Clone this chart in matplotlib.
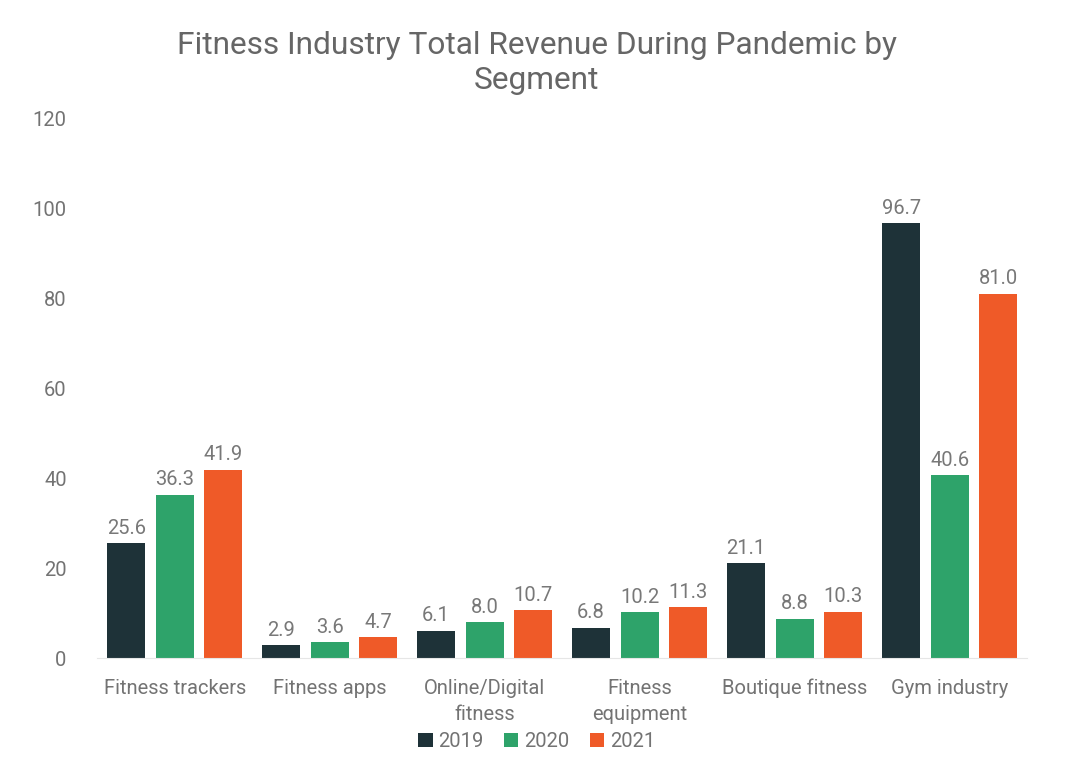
import numpy as np
import matplotlib.pyplot as plt

plt.rcParams['font.family'] = ['Roboto', 'DejaVu Sans']

segments = ['Fitness trackers', 'Fitness apps', 'Online/Digital\nfitness',
            'Fitness\nequipment', 'Boutique fitness', 'Gym industry']
years = ['2019', '2020', '2021']
rev_2019 = [25.6, 2.9, 6.1, 6.8, 21.1, 96.7]
rev_2020 = [36.3, 3.6, 8.0, 10.2, 8.8, 40.6]
rev_2021 = [41.9, 4.7, 10.7, 11.3, 10.3, 81.0]
colors = ['#1e3238', '#2ea36a', '#ef5a28']

fig = plt.figure(figsize=(10.8, 7.77), dpi=100)
ax = fig.add_axes([0.09, 0.153, 0.861, 0.695])

x = np.arange(len(segments))
w = 0.245
off = 0.313
for i, (vals, yr) in enumerate(zip([rev_2019, rev_2020, rev_2021], years)):
    bars = ax.bar(x + (i - 1) * off, vals, w, color=colors[i], label=yr)
    for b, v in zip(bars, vals):
        ax.text(b.get_x() + b.get_width() / 2, v + 1.2, f'{v:.1f}',
                ha='center', va='bottom', fontsize=14.5, color='#787878')

ax.set_xlim(-0.5, len(segments) - 0.5)
ax.set_ylim(0, 120)
ax.set_yticks(range(0, 121, 20))
ax.set_xticks(x)
ax.set_xticklabels(segments, linespacing=1.45)
for s in ['top', 'right', 'left']:
    ax.spines[s].set_visible(False)
ax.spines['bottom'].set_color('#e6e6e6')
ax.tick_params(axis='both', length=0, labelsize=14.5, labelcolor='#737373')
ax.tick_params(axis='y', pad=22)
ax.tick_params(axis='x', pad=15)

fig.suptitle('Fitness Industry Total Revenue During Pandemic by\nSegment',
             x=0.497, y=0.96, fontsize=22.8, color='#666666',
             linespacing=1.27)

fig.legend(loc='center', bbox_to_anchor=(0.497, 0.046), ncol=3, frameon=False,
           handlelength=0.7, handleheight=0.7, handletextpad=0.3,
           columnspacing=1.0, labelcolor='#737373', prop={'size': 14.5})

fig.savefig('out.png', dpi=100, facecolor='white')
